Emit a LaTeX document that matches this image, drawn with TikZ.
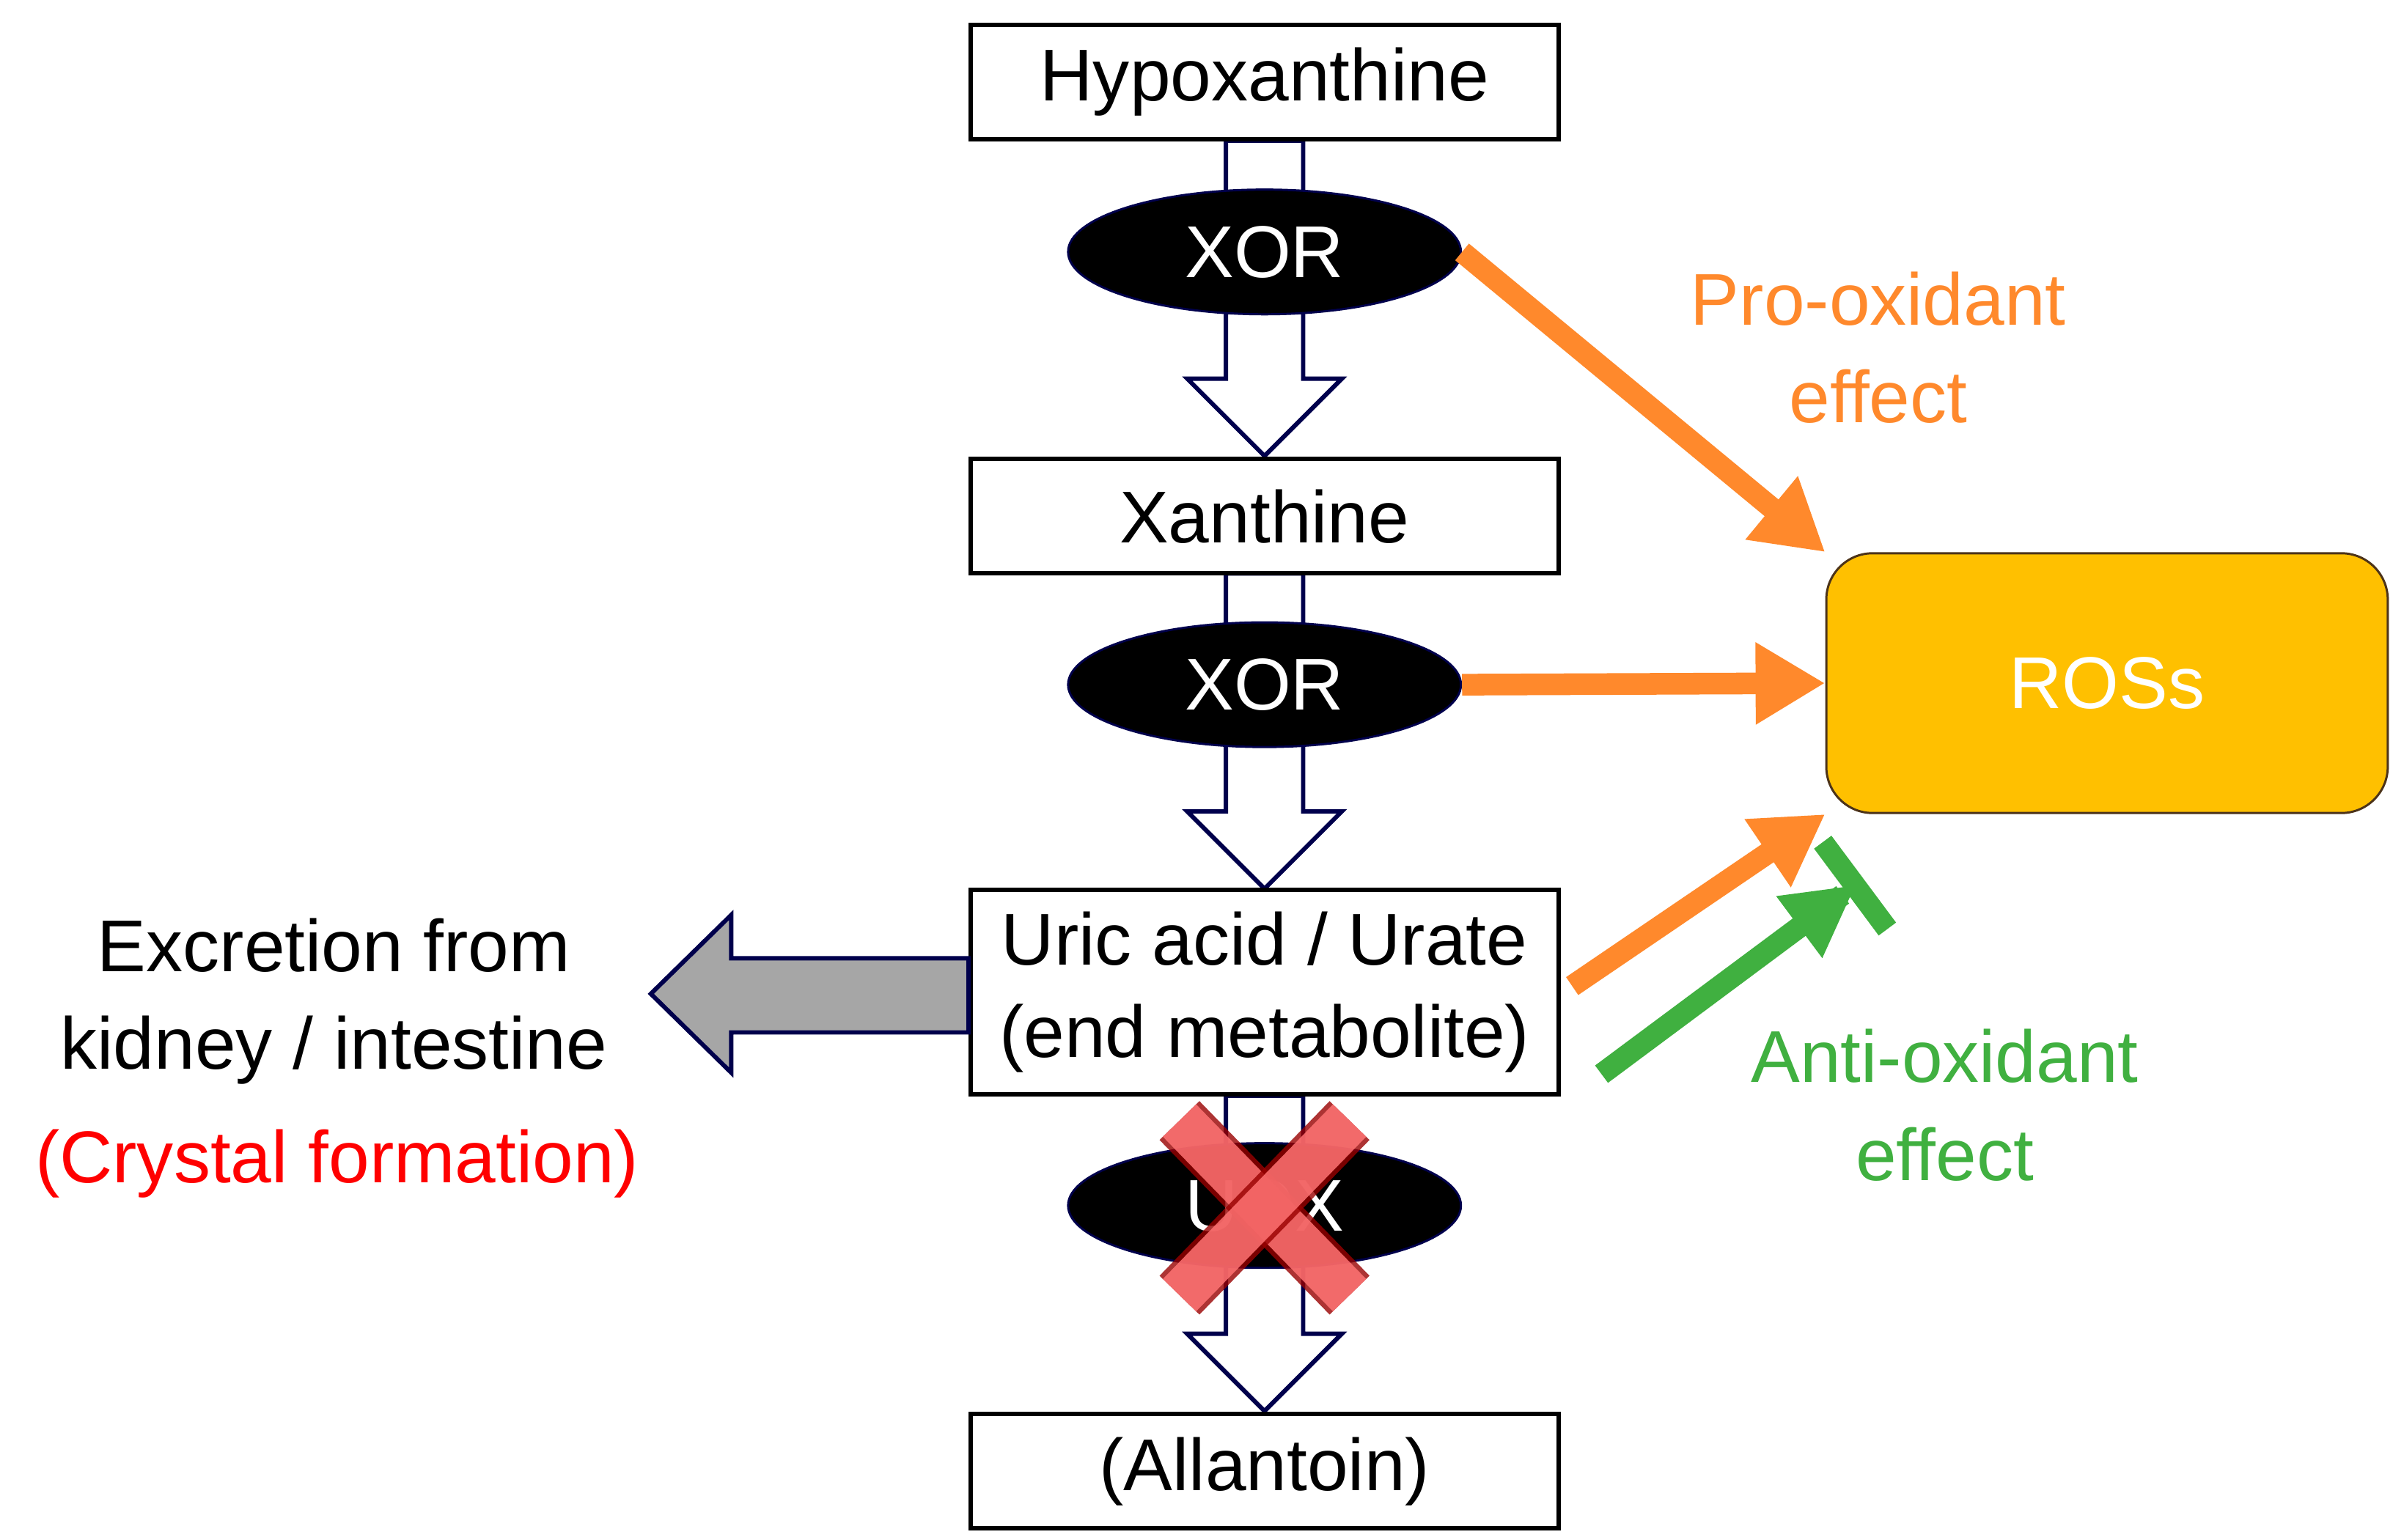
\documentclass[tikz,border=0pt]{standalone}
\usepackage{fontspec}
\setmainfont{Liberation Sans}
\usetikzlibrary{positioning,arrows.meta,shapes.geometric,calc}
\definecolor{orng}{RGB}{255,137,44}
\definecolor{grn}{RGB}{64,176,64}
\definecolor{rosfill}{RGB}{255,192,0}
\tikzset{
  box/.style={draw, line width=0.8pt, inner sep=1pt, minimum width=3.8cm, minimum height=0.74cm, font=\fontsize{13.5}{17}\selectfont},
  enz/.style={ellipse, fill=black, draw=black!70!blue, minimum width=2.54cm, minimum height=0.74cm, text=white, font=\fontsize{13.5}{17}\selectfont},
  hollow/.style={draw=black!70!blue, fill=white, line width=0.8pt},
  push/.style={-{Triangle[length=0.45cm,width=0.5cm]}, line width=0.14cm},
}
\begin{document}
\begin{tikzpicture}[x=0.01cm, y=-0.01cm]
  \useasboundingbox (0,0) rectangle (1548,996);
  %------------Flechas huecas----------
  \foreach \a/\b in {91/295, 371/575, 709/913} {
    \path[hollow] (793,\a) -- (843,\a) -- (843,\b-50) -- (868,\b-50) -- (818,\b)
      -- (768,\b-50) -- (793,\b-50) -- cycle;
  }
  %-------------Cajas-----------
  \node[box] (hypo) at (818,53) {Hypoxanthine};
  \node[box] (xan) at (818,334) {Xanthine};
  \node[box, minimum height=1.32cm, align=center] (uric) at (818,642) {Uric acid / Urate\\(end metabolite)};
  \node[box] (allan) at (818,952) {(Allantoin)};
  \node[enz] (xor1) at (818,163) {XOR};
  \node[enz] (xor2) at (818,443) {XOR};
  \node[enz] (uox) at (818,780) {UOX};
  \node[draw=black!60!brown, fill=rosfill, rounded corners=0.3cm, minimum width=3.63cm,
    minimum height=1.68cm, text=white, font=\fontsize{13.5}{17}\selectfont] (ros) at (1363,442) {ROSs};
  %------------Cruz--------------
  \foreach \s in {1,-1} {
    \draw[line width=0.36cm, draw=red!60!black, opacity=0.8] (818-55*\s,725) -- (818+55*\s,838);
    \draw[line width=0.3cm, draw=red!55!white, opacity=0.85] (818-55*\s,725) -- (818+55*\s,838);
  }
  %------------Flechas--------------
  \coordinate (u1) at (1017,638);
  \coordinate (u2) at (1036,695);
  \coordinate (g2) at (1200,573);
  \draw[push, orng] (xor1.east) -- (ros.north west);
  \draw[push, orng] (xor2.east) -- (ros.west);
  \draw[push, orng] (u1) -- (ros.south west);
  \draw[grn, line width=0.14cm] (u2) -- ($(g2)!0.1cm!(u2)$);
  \fill[grn] ($(g2)!0.45cm!(u2)$) ++(0,0) coordinate (gb)
    ($(gb)!0.25cm!90:(g2)$) -- (g2) -- ($(gb)!0.25cm!-90:(g2)$) -- cycle;
  \draw[grn, line width=0.14cm] ($(g2)!0.35cm!90:(u2)$) -- ($(g2)!0.35cm!-90:(u2)$);
  \path[draw=black!70!blue, fill=black!35, line width=0.8pt] (uric.west |- 0,620) -- (473,620)
    -- (473,592) -- (421,643) -- (473,694) -- (473,668) -- (uric.west |- 0,668) -- cycle;
  %------------Textos--------------
  \node[orng, align=center, font=\fontsize{13.5}{18}\selectfont] (pro) at (1215,225) {Pro-oxidant\\effect};
  \node[grn, align=center, font=\fontsize{13.5}{18}\selectfont] (anti) at (1258,715) {Anti-oxidant\\effect};
  \node[align=center, font=\fontsize{13.5}{18}\selectfont] (excr) at (216,648) {Excretion from\\kidney / intestine};
  \node[red, font=\fontsize{13.5}{18}\selectfont] (cryst) at (218,753) {(Crystal formation)};
\end{tikzpicture}
\end{document}
